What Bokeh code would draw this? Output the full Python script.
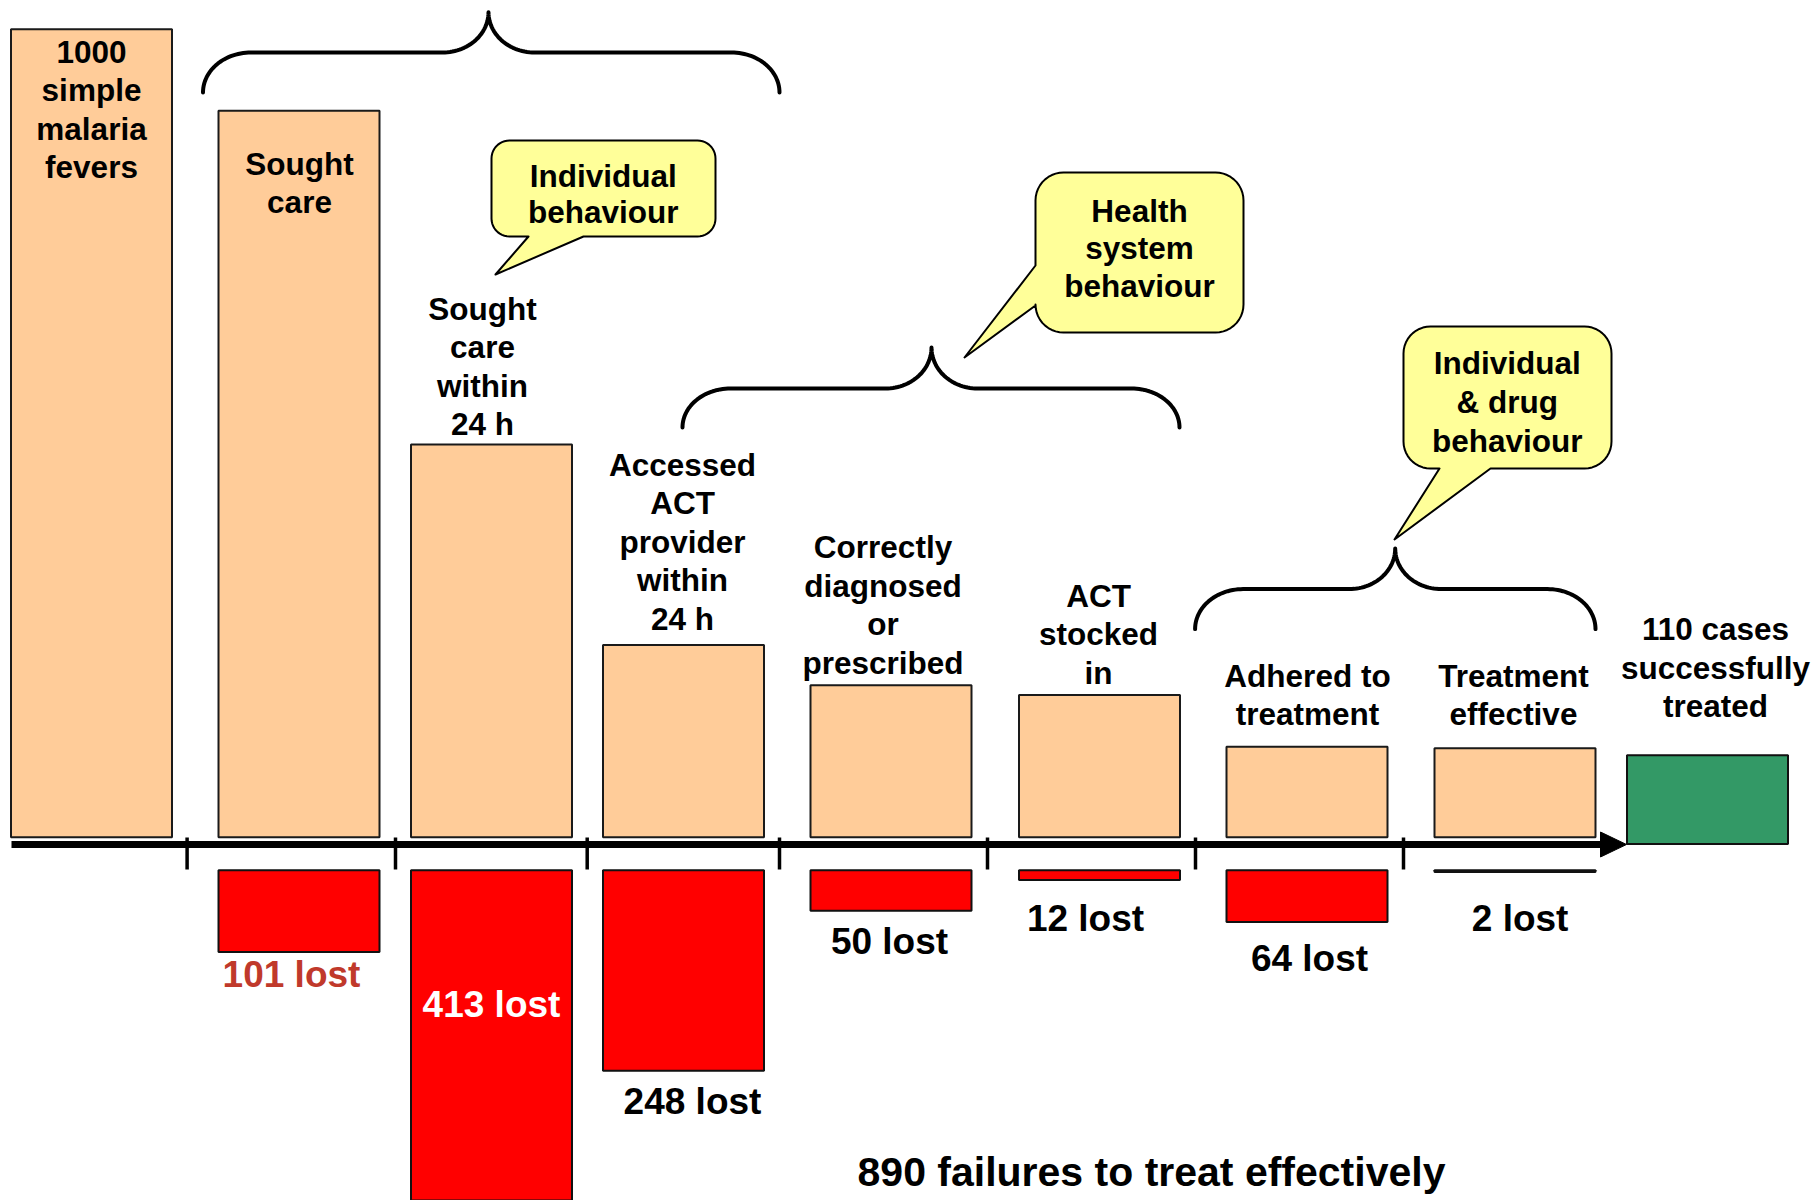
import numpy as np
from bokeh.plotting import figure
from bokeh.models import Range1d
from bokeh.core.properties import value
from bokeh.embed import file_html
from bokeh.resources import INLINE

# ---------------- data ----------------
stage_lines = [
    ["1000", "simple", "malaria", "fevers"],
    ["Sought", "care"],
    ["Sought", "care", "within", "24 h"],
    ["Accessed", "ACT", "provider", "within", "24 h"],
    ["Correctly", "diagnosed", "or", "prescribed"],
    ["ACT", "stocked", "in"],
    ["Adhered to", "treatment"],
    ["Treatment", "effective"],
]
remaining = [1000, 899, 486, 238, 188, 176, 112, 110]
lost = [101, 413, 248, 50, 12, 64, 2]
lost_labels = ["101 lost", "413 lost", "248 lost", "50 lost", "12 lost", "64 lost", "2 lost"]
treated = 110
treated_lines = ["110 cases", "successfully", "treated"]
failures_label = "890 failures to treat effectively"
bubble_lines = [
    ["Individual", "behaviour"],
    ["Health", "system", "behaviour"],
    ["Individual", "& drug", "behaviour"],
]

# ---------------- layout (reference pixel space) ----------------
W, H = 1816, 1200
OFF = 0
K = 0.808            # px per case
BASE = 836.7         # px row of zero
stage_x = [91, 298.5, 491, 683, 890.5, 1099, 1306.5, 1514.5]
green_x = 1707
bar_w = 161
red_gap = 41         # cases-units gap below axis
green_drop = 8.5
tick_x = [186.6, 395, 586.7, 779, 987, 1195, 1403]

label_pos = [(91, 51), (299, 163), (482, 308.3), (682, 464), (882.5, 546.6),
             (1098, 595), (1307, 675), (1513, 675)]
label_step = 38.5
treated_pos = (1715, 628.6)
lost_pos = [(291, 973.5), (491, 1003.5), (692, 1100.5), (889, 941), (1085, 917.5),
            (1309, 957.5), (1519.6, 917.5)]
lost_colors = ["#C0392B", "#FFFFFF", "#000000", "#000000", "#000000", "#000000", "#000000"]

FONT = value("Liberation Sans")
LBL = "31.5px"
LOSTF = "37px"

p = figure(width=W, height=H, output_backend="svg", toolbar_location=None,
           x_range=Range1d(OFF, OFF + W),
           y_range=Range1d(-(OFF + H - BASE) / K, (BASE - OFF) / K),
           min_border=0, background_fill_color="white", border_fill_color="white")
p.extra_y_ranges = {"px": Range1d(OFF + H, OFF)}
p.axis.visible = False
p.xgrid.visible = False
p.ygrid.visible = False
p.outline_line_color = None

# ---- bars ----
p.vbar(x=stage_x, width=bar_w, bottom=0, top=remaining,
       fill_color="#FFCC99", line_color="#1a1a1a", line_width=2)
p.vbar(x=stage_x[1:], width=bar_w, top=-red_gap,
       bottom=[-red_gap - v for v in lost],
       fill_color="#FF0000", line_color="#111111", line_width=2)
p.vbar(x=[green_x], width=bar_w, bottom=-green_drop, top=treated - green_drop,
       fill_color="#339966", line_color="#111111", line_width=2)

# ---- axis line, arrow, ticks ----
p.line(x=[11, 1603], y=[844, 844], y_range_name="px", line_color="black", line_width=7)
p.patch(x=[1600, 1626, 1600], y=[831.5, 844, 856.5], y_range_name="px",
        fill_color="black", line_color="black", line_width=1)
p.segment(x0=tick_x, y0=[837] * len(tick_x), x1=tick_x, y1=[869] * len(tick_x),
          y_range_name="px", line_color="black", line_width=3.5)

# ---- braces ----
def brace(x0, x1, xc, yt, yh, yb, rx=48, rx2=46, n=30):
    t = np.linspace(0, np.pi / 2, n)
    ry = yb - yh
    ry2 = yh - yt
    xs, ys = [], []
    xs += list(x0 + rx - rx * np.cos(t)); ys += list(yb - ry * np.sin(t))
    xs += list(xc - rx2 + rx2 * np.sin(t)); ys += list(yt + ry2 * np.cos(t))
    xs += list(xc + rx2 - rx2 * np.sin(t[::-1])); ys += list(yt + ry2 * np.cos(t[::-1]))
    xs += list(x1 - rx + rx * np.sin(t)); ys += list(yb - ry * np.cos(t))
    return xs, ys

braces = [brace(202.5, 779, 488, 11.7, 52, 92),
          brace(682, 1179, 931, 347, 388, 427),
          brace(1194.6, 1595, 1394.7, 548, 588.6, 628.6)]
p.multi_line(xs=[b[0] for b in braces], ys=[b[1] for b in braces], y_range_name="px",
             line_color="black", line_width=4, line_cap="round", line_join="round")

# ---- speech bubbles ----
def bubble(x0, y0, x1, y1, r, tail_edge, a, b, tip, n=12):
    xs, ys = [], []
    def arc(cx, cy, a0, a1):
        ang = np.radians(np.linspace(a0, a1, n))
        xs.extend(cx + r * np.cos(ang)); ys.extend(cy + r * np.sin(ang))
    arc(x1 - r, y0 + r, -90, 0)
    arc(x1 - r, y1 - r, 0, 90)
    if tail_edge == "bottom":
        xs.extend([b, tip[0], a]); ys.extend([y1, tip[1], y1])
    arc(x0 + r, y1 - r, 90, 180)
    if tail_edge == "left":
        xs.extend([x0, tip[0], x0]); ys.extend([b, tip[1], a])
    arc(x0 + r, y0 + r, 180, 270)
    return xs, ys

bubbles = [bubble(491, 140, 715, 236, 18, "bottom", 528, 583, (495, 274)),
           bubble(1035, 172, 1243, 332, 28, "left", 265, 305, (964, 357)),
           bubble(1403, 326, 1611, 468, 27, "bottom", 1439, 1490, (1394, 539))]
p.patches(xs=[b[0] for b in bubbles], ys=[b[1] for b in bubbles], y_range_name="px",
          fill_color="#FFFF99", line_color="black", line_width=2, line_join="round")

bubble_pos = [(602.7, 175, 36.7), (1139, 210, 37.5), (1506.8, 362, 39)]

# ---- texts ----
tx, ty, tt = [], [], []
for (x, y0), lines in zip(label_pos, stage_lines):
    for i, s in enumerate(lines):
        tx.append(x); ty.append(y0 + i * label_step); tt.append(s)
for i, s in enumerate(treated_lines):
    tx.append(treated_pos[0]); ty.append(treated_pos[1] + i * label_step); tt.append(s)
for (x, y0, st), lines in zip(bubble_pos, bubble_lines):
    for i, s in enumerate(lines):
        tx.append(x); ty.append(y0 + i * st); tt.append(s)
p.text(x=tx, y=ty, text=tt, y_range_name="px", text_font=FONT, text_font_style="bold",
       text_font_size=LBL, text_align="center", text_baseline="middle", text_color="black")

p.text(x=[q[0] for q in lost_pos], y=[q[1] for q in lost_pos], text=lost_labels,
       y_range_name="px", text_font=FONT, text_font_style="bold", text_font_size=LOSTF,
       text_align="center", text_baseline="middle", text_color=lost_colors)

p.text(x=[1151], y=[1171], text=[failures_label], y_range_name="px", text_font=FONT,
       text_font_style="bold", text_font_size="41px", text_align="center",
       text_baseline="middle", text_color="black")

open("out.html", "w").write(file_html(p, INLINE))
